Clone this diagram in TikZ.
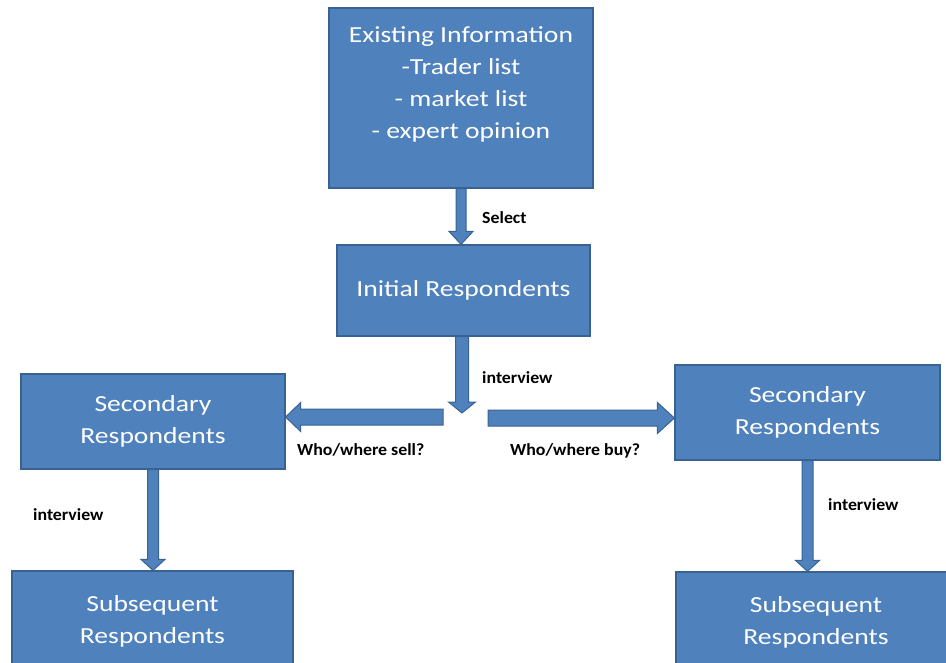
\documentclass[tikz,border=0pt]{standalone}
\usepackage{fontspec}
\setmainfont{Carlito}
\newfontfamily\boxfont{Carlito}[FakeStretch=1.2]
\newfontfamily\labfont{Carlito}[FakeStretch=1.05]
\usetikzlibrary{calc}
\definecolor{boxblue}{HTML}{4F81BD}
\definecolor{boxedge}{HTML}{3A6291}
\tikzset{
  box/.style={draw=boxedge, fill=boxblue, line width=1.2pt, inner sep=0pt, align=center,
    text=white, font=\boxfont\fontsize{23}{32}\selectfont},
  boxtxt/.style={inner sep=0pt, align=center, text=white, font=\boxfont\fontsize{23}{32}\selectfont},
  arrowfill/.style={draw=boxedge, fill=boxblue, line width=1pt, line join=miter},
  lab/.style={inner sep=0pt, anchor=base west, text=black, font=\labfont\bfseries\fontsize{17}{19}\selectfont}
}
\newcommand{\blockarrow}[5]{%
  \path[arrowfill] let \p1=#1, \p2=#2, \n1={atan2(\y2-\y1,\x2-\x1)}, \n2={veclen(\x2-\x1,\y2-\y1)} in
    [shift={(\p1)}, rotate=\n1]
    (0,#3) -- ({\n2-#5},#3) -- ({\n2-#5},#4) -- ({\n2},0) -- ({\n2-#5},-#4) -- ({\n2-#5},-#3) -- (0,-#3) -- cycle;%
}
\begin{document}
\begin{tikzpicture}[x=1pt,y=-1pt]
\useasboundingbox (0,0) rectangle (946,662);
\clip (0,0) rectangle (946,662);
% boxes
\node[box, minimum width=264pt, minimum height=180pt] (top) at (461,98) {};
\node[boxtxt] (toptxt) at (461,84) {Existing Information\\-Trader list\\- market list\\- expert opinion};
\node[box, minimum width=253pt, minimum height=91pt] (init) at (463.5,290.5) {Initial Respondents};
\node[box, minimum width=264pt, minimum height=95pt] (secL) at (153,421.5) {Secondary\\Respondents};
\node[box, minimum width=265pt, minimum height=95pt] (secR) at (807.5,412.5) {Secondary\\Respondents};
\node[box, minimum width=281pt, minimum height=100pt] (subL) at (152.5,621) {Subsequent\\Respondents};
\node[box, minimum width=280pt, minimum height=100pt] (subR) at (816,622) {Subsequent\\Respondents};
% connectors
\coordinate (split) at (462,413);
\coordinate (lstart) at (443,417);
\coordinate (rstart) at (488,418);
\blockarrow{(top.south)}{(top.south |- init.north)}{5}{12}{13}
\blockarrow{(init.south -| split)}{(split)}{6.5}{13.5}{11}
\blockarrow{(lstart)}{(secL.east |- lstart)}{8}{14.5}{15}
\blockarrow{(rstart)}{(secR.west |- rstart)}{8}{15.5}{17}
\blockarrow{(secL.south)}{(secL.south |- subL.north)}{5.5}{12}{11}
\blockarrow{(secR.south)}{(secR.south |- subR.north)}{5.5}{12}{11}
% labels
\node[lab] (lselect) at (482,223) {Select};
\node[lab] (lint1) at (482,383) {interview};
\node[lab] (lsell) at (297,455) {Who/where sell?};
\node[lab] (lbuy) at (510,455) {Who/where buy?};
\node[lab] (lint2) at (33,520) {interview};
\node[lab] (lint3) at (828,510) {interview};
\end{tikzpicture}
\end{document}
